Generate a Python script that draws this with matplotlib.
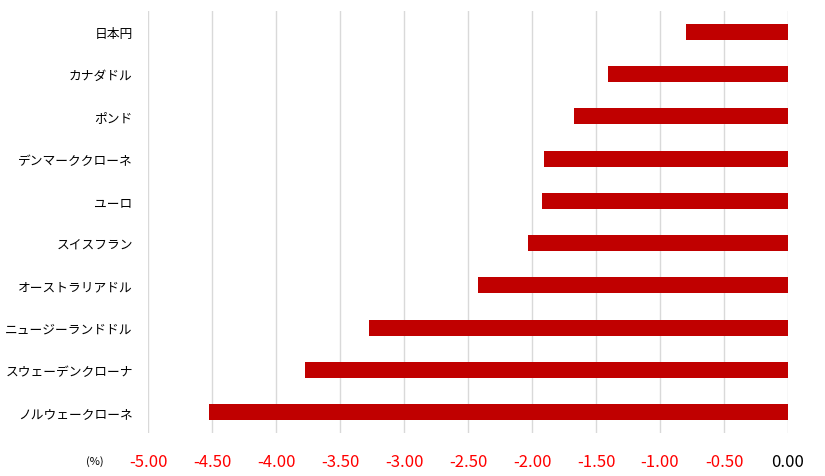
import matplotlib
matplotlib.use("Agg")
import matplotlib.pyplot as plt

plt.rcParams['font.family'] = ['Noto Sans CJK JP', 'DejaVu Sans']

# currencies, top to bottom
currencies = ['日本円', 'カナダドル', 'ポンド', 'デンマーククローネ', 'ユーロ',
              'スイスフラン', 'オーストラリアドル', 'ニュージーランドドル',
              'スウェーデンクローナ', 'ノルウェークローネ']
changes = [-0.80, -1.41, -1.67, -1.91, -1.92, -2.03, -2.42, -3.27, -3.77, -4.52]

xticks = [-5.0, -4.5, -4.0, -3.5, -3.0, -2.5, -2.0, -1.5, -1.0, -0.5, 0.0]

fig = plt.figure(figsize=(8.25, 4.77), dpi=100)
ax = fig.add_axes([0.1794, 0.090, 0.7758, 0.885])

ypos = list(range(len(currencies)))
ax.barh(ypos, changes, height=0.38, color='#C00000', zorder=3)

ax.set_xlim(-5.0, 0.0)
ax.set_ylim(len(currencies) - 0.5, -0.5)
ax.set_yticks(ypos)
ax.set_yticklabels(currencies, fontsize=9.2)
ax.set_xticks(xticks)
ax.set_xticklabels([f'{v:.2f}' for v in xticks], fontsize=12)
for lab, v in zip(ax.get_xticklabels(), xticks):
    lab.set_color('red' if v < 0 else 'black')

ax.tick_params(axis='y', length=0, pad=11)
ax.tick_params(axis='x', length=0, pad=14)
ax.grid(axis='x', color='#d9d9d9', linewidth=1, zorder=0)
for s in ax.spines.values():
    s.set_visible(False)

fig.text(95 / 825, 1 - 462 / 477, '(%)', fontsize=8, ha='center', va='center')

fig.savefig('out.png', dpi=100)
